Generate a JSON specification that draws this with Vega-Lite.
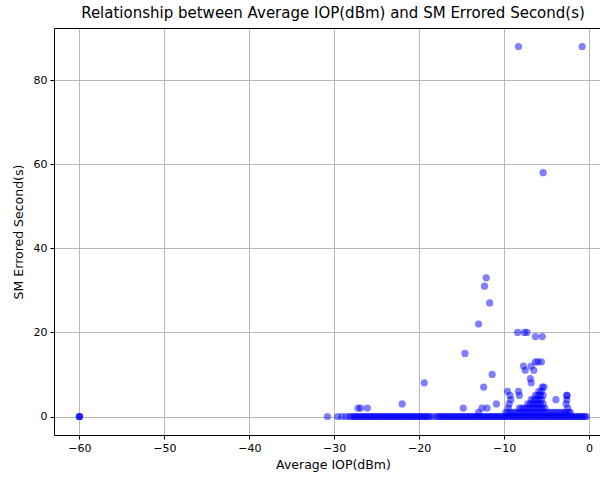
{
  "$schema": "https://vega.github.io/schema/vega-lite/v6.json",
  "autosize": "none",
  "width": 546,
  "height": 407,
  "padding": {"left": 54, "top": 28, "right": 0, "bottom": 42},
  "background": "white",
  "title": {
    "text": "Relationship between Average IOP(dBm) and SM Errored Second(s)",
    "font": "DejaVu Sans",
    "fontSize": 15,
    "fontWeight": "normal",
    "color": "#000000",
    "anchor": "middle",
    "baseline": "alphabetic",
    "offset": -5,
    "dx": 6
  },
  "config": {
    "view": {"stroke": null},
    "axis": {
      "labelFont": "DejaVu Sans",
      "labelFontSize": 11,
      "labelColor": "#000000",
      "titleFont": "DejaVu Sans",
      "titleFontSize": 12.5,
      "titleFontWeight": "normal",
      "titleColor": "#000000",
      "domainColor": "#000000",
      "domainWidth": 1,
      "tickColor": "#000000",
      "tickSize": 4,
      "tickWidth": 1,
      "gridColor": "#b0b0b0",
      "gridWidth": 0.9,
      "labelPadding": 3,
      "zindex": 1
    }
  },
  "data": {
    "values": [
      {"iop": -60, "es": 0}, {"iop": -60, "es": 0}, {"iop": -60, "es": 0},
      {"iop": -30.8, "es": 0},
      {"iop": -29.6, "es": 0}, {"iop": -29.1, "es": 0}, {"iop": -28.6, "es": 0}, {"iop": -28.2, "es": 0},
      {"iop": -27.9, "es": 0}, {"iop": -27.7, "es": 0}, {"iop": -27.5, "es": 0}, {"iop": -27.3, "es": 0},
      {"iop": -27.1, "es": 0}, {"iop": -26.9, "es": 0}, {"iop": -26.7, "es": 0}, {"iop": -26.5, "es": 0},
      {"iop": -26.3, "es": 0}, {"iop": -26.1, "es": 0}, {"iop": -25.9, "es": 0}, {"iop": -25.7, "es": 0},
      {"iop": -25.5, "es": 0}, {"iop": -25.3, "es": 0}, {"iop": -25.1, "es": 0}, {"iop": -24.9, "es": 0},
      {"iop": -24.7, "es": 0}, {"iop": -24.5, "es": 0}, {"iop": -24.3, "es": 0}, {"iop": -24.1, "es": 0},
      {"iop": -23.9, "es": 0}, {"iop": -23.7, "es": 0}, {"iop": -23.5, "es": 0}, {"iop": -23.3, "es": 0},
      {"iop": -23.1, "es": 0}, {"iop": -22.9, "es": 0}, {"iop": -22.7, "es": 0}, {"iop": -22.5, "es": 0},
      {"iop": -22.3, "es": 0}, {"iop": -22.1, "es": 0}, {"iop": -21.9, "es": 0}, {"iop": -21.7, "es": 0},
      {"iop": -21.5, "es": 0}, {"iop": -21.3, "es": 0}, {"iop": -21.1, "es": 0}, {"iop": -20.9, "es": 0},
      {"iop": -20.7, "es": 0}, {"iop": -20.5, "es": 0}, {"iop": -20.3, "es": 0}, {"iop": -20.1, "es": 0},
      {"iop": -19.9, "es": 0}, {"iop": -19.7, "es": 0}, {"iop": -19.5, "es": 0}, {"iop": -19.3, "es": 0},
      {"iop": -19.1, "es": 0}, {"iop": -18.9, "es": 0}, {"iop": -18.7, "es": 0}, {"iop": -18.3, "es": 0},
      {"iop": -17.9, "es": 0}, {"iop": -17.7, "es": 0}, {"iop": -17.5, "es": 0}, {"iop": -17.3, "es": 0},
      {"iop": -17.1, "es": 0}, {"iop": -16.9, "es": 0}, {"iop": -16.7, "es": 0}, {"iop": -16.5, "es": 0},
      {"iop": -16.3, "es": 0}, {"iop": -16.1, "es": 0}, {"iop": -15.9, "es": 0}, {"iop": -15.7, "es": 0},
      {"iop": -15.5, "es": 0}, {"iop": -15.3, "es": 0}, {"iop": -15.1, "es": 0}, {"iop": -14.9, "es": 0},
      {"iop": -14.7, "es": 0}, {"iop": -14.5, "es": 0}, {"iop": -14.3, "es": 0}, {"iop": -14.1, "es": 0},
      {"iop": -13.9, "es": 0}, {"iop": -13.7, "es": 0}, {"iop": -13.5, "es": 0}, {"iop": -13.3, "es": 0},
      {"iop": -13.1, "es": 0}, {"iop": -12.9, "es": 0}, {"iop": -12.7, "es": 0}, {"iop": -12.5, "es": 0},
      {"iop": -12.3, "es": 0}, {"iop": -12.1, "es": 0}, {"iop": -11.9, "es": 0}, {"iop": -11.7, "es": 0},
      {"iop": -11.5, "es": 0}, {"iop": -11.3, "es": 0}, {"iop": -11.1, "es": 0}, {"iop": -10.9, "es": 0},
      {"iop": -10.7, "es": 0}, {"iop": -10.5, "es": 0}, {"iop": -10.3, "es": 0}, {"iop": -10.1, "es": 0},
      {"iop": -9.9, "es": 0}, {"iop": -9.7, "es": 0}, {"iop": -9.5, "es": 0}, {"iop": -9.3, "es": 0},
      {"iop": -9.1, "es": 0}, {"iop": -8.9, "es": 0}, {"iop": -8.7, "es": 0}, {"iop": -8.5, "es": 0},
      {"iop": -8.3, "es": 0}, {"iop": -8.1, "es": 0}, {"iop": -7.9, "es": 0}, {"iop": -7.7, "es": 0},
      {"iop": -7.5, "es": 0}, {"iop": -7.3, "es": 0}, {"iop": -7.1, "es": 0}, {"iop": -6.9, "es": 0},
      {"iop": -6.7, "es": 0}, {"iop": -6.5, "es": 0}, {"iop": -6.3, "es": 0}, {"iop": -6.1, "es": 0},
      {"iop": -5.9, "es": 0}, {"iop": -5.7, "es": 0}, {"iop": -5.5, "es": 0}, {"iop": -5.3, "es": 0},
      {"iop": -5.1, "es": 0}, {"iop": -4.9, "es": 0}, {"iop": -4.7, "es": 0}, {"iop": -4.5, "es": 0},
      {"iop": -4.3, "es": 0}, {"iop": -4.1, "es": 0}, {"iop": -3.9, "es": 0}, {"iop": -3.7, "es": 0},
      {"iop": -3.5, "es": 0}, {"iop": -3.3, "es": 0}, {"iop": -3.1, "es": 0}, {"iop": -2.9, "es": 0},
      {"iop": -2.7, "es": 0}, {"iop": -2.5, "es": 0}, {"iop": -2.3, "es": 0}, {"iop": -2.1, "es": 0},
      {"iop": -1.9, "es": 0}, {"iop": -1.7, "es": 0}, {"iop": -1.5, "es": 0}, {"iop": -1.3, "es": 0},
      {"iop": -1.1, "es": 0}, {"iop": -0.9, "es": 0}, {"iop": -0.7, "es": 0}, {"iop": -0.5, "es": 0},
      {"iop": -0.3, "es": 0},

      {"iop": -8.3, "es": 88}, {"iop": -0.8, "es": 88}, {"iop": -5.4, "es": 58},
      {"iop": -12.1, "es": 33}, {"iop": -12.3, "es": 31}, {"iop": -11.7, "es": 27}, {"iop": -13.0, "es": 22},
      {"iop": -8.4, "es": 20}, {"iop": -7.6, "es": 20}, {"iop": -7.3, "es": 20},
      {"iop": -6.3, "es": 19}, {"iop": -5.5, "es": 19},
      {"iop": -14.6, "es": 15},
      {"iop": -6.3, "es": 13}, {"iop": -6.0, "es": 13}, {"iop": -5.6, "es": 13},
      {"iop": -7.7, "es": 12}, {"iop": -6.8, "es": 12},
      {"iop": -7.5, "es": 11}, {"iop": -6.5, "es": 11},
      {"iop": -11.4, "es": 10},
      {"iop": -6.9, "es": 9}, {"iop": -6.8, "es": 8}, {"iop": -19.4, "es": 8},
      {"iop": -12.4, "es": 7}, {"iop": -5.5, "es": 7}, {"iop": -5.3, "es": 7},
      {"iop": -9.6, "es": 6}, {"iop": -8.3, "es": 6}, {"iop": -5.9, "es": 6}, {"iop": -5.6, "es": 6},
      {"iop": -9.3, "es": 5}, {"iop": -8.2, "es": 5}, {"iop": -6.3, "es": 5}, {"iop": -6.0, "es": 5},
      {"iop": -5.7, "es": 5}, {"iop": -5.4, "es": 5}, {"iop": -2.6, "es": 5}, {"iop": -2.6, "es": 5},
      {"iop": -9.2, "es": 4}, {"iop": -6.8, "es": 4}, {"iop": -6.5, "es": 4}, {"iop": -6.2, "es": 4},
      {"iop": -5.9, "es": 4}, {"iop": -5.6, "es": 4}, {"iop": -3.9, "es": 4}, {"iop": -2.6, "es": 4},
      {"iop": -22.0, "es": 3}, {"iop": -10.9, "es": 3}, {"iop": -9.4, "es": 3}, {"iop": -7.2, "es": 3},
      {"iop": -6.9, "es": 3}, {"iop": -6.6, "es": 3}, {"iop": -6.3, "es": 3}, {"iop": -6.0, "es": 3},
      {"iop": -5.7, "es": 3}, {"iop": -5.4, "es": 3}, {"iop": -2.7, "es": 3},
      {"iop": -27.2, "es": 2}, {"iop": -26.9, "es": 2}, {"iop": -26.1, "es": 2}, {"iop": -14.8, "es": 2},
      {"iop": -12.6, "es": 2}, {"iop": -12.0, "es": 2}, {"iop": -9.5, "es": 2}, {"iop": -8.2, "es": 2},
      {"iop": -7.9, "es": 2}, {"iop": -7.6, "es": 2}, {"iop": -7.3, "es": 2}, {"iop": -7.0, "es": 2},
      {"iop": -6.7, "es": 2}, {"iop": -6.4, "es": 2}, {"iop": -6.1, "es": 2}, {"iop": -5.8, "es": 2},
      {"iop": -5.5, "es": 2}, {"iop": -5.2, "es": 2}, {"iop": -2.5, "es": 2},
      {"iop": -13.0, "es": 1}, {"iop": -9.8, "es": 1}, {"iop": -9.5, "es": 1}, {"iop": -9.2, "es": 1},
      {"iop": -8.9, "es": 1}, {"iop": -8.6, "es": 1}, {"iop": -8.3, "es": 1}, {"iop": -8.0, "es": 1},
      {"iop": -7.7, "es": 1}, {"iop": -7.4, "es": 1}, {"iop": -7.1, "es": 1}, {"iop": -6.8, "es": 1},
      {"iop": -6.5, "es": 1}, {"iop": -6.2, "es": 1}, {"iop": -5.9, "es": 1}, {"iop": -5.6, "es": 1},
      {"iop": -5.3, "es": 1}, {"iop": -5.0, "es": 1}, {"iop": -4.7, "es": 1}, {"iop": -4.4, "es": 1},
      {"iop": -4.1, "es": 1}, {"iop": -3.8, "es": 1}, {"iop": -3.5, "es": 1}, {"iop": -3.2, "es": 1},
      {"iop": -2.9, "es": 1}, {"iop": -2.7, "es": 1}, {"iop": -2.4, "es": 1}, {"iop": -2.2, "es": 1}
    ]
  },
  "layer": [
    {
      "mark": {"type": "circle", "color": "#0000ff", "opacity": 0.5, "size": 52, "clip": true},
      "encoding": {
        "x": {
          "field": "iop",
          "type": "quantitative",
          "scale": {"domain": [-63, 1.3], "nice": false, "zero": false},
          "axis": {
            "title": "Average IOP(dBm)",
            "values": [-60, -50, -40, -30, -20, -10, 0],
            "format": "d",
            "titlePadding": 5,
            "titleX": 279
          }
        },
        "y": {
          "field": "es",
          "type": "quantitative",
          "scale": {"domain": [-4.4, 92.4], "nice": false, "zero": false},
          "axis": {
            "title": "SM Errored Second(s)",
            "values": [0, 20, 40, 60, 80],
            "format": "d",
            "titlePadding": 8
          }
        }
      }
    },
    {
      "mark": {"type": "circle", "opacity": 0},
      "encoding": {
        "x": {
          "field": "iop",
          "type": "quantitative",
          "axis": {"orient": "top", "labels": false, "ticks": false, "grid": false, "title": null, "domain": true}
        },
        "y": {"field": "es", "type": "quantitative"}
      }
    }
  ],
  "resolve": {"axis": {"x": "independent"}}
}
